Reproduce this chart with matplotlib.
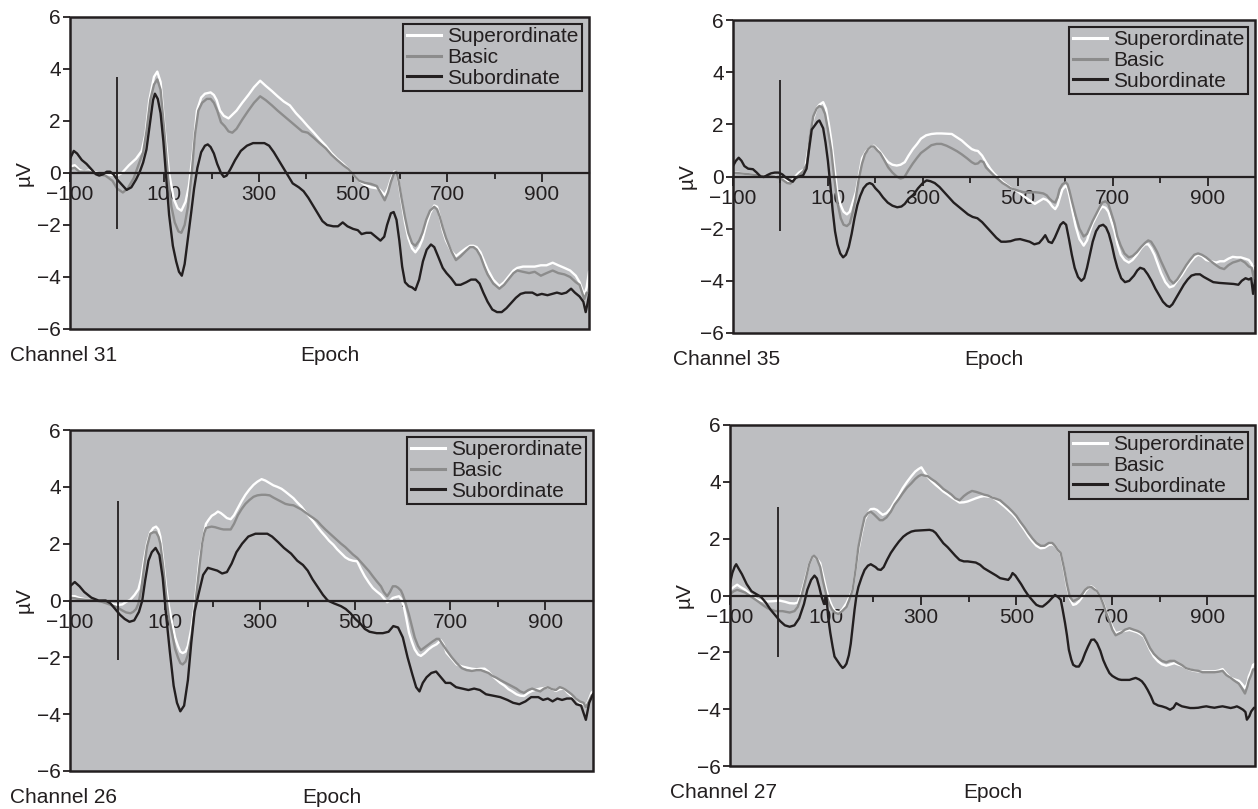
import matplotlib
matplotlib.use("Agg")
import matplotlib.pyplot as plt
from matplotlib.patches import Rectangle
import numpy as np

plt.rcParams['font.family'] = ['Liberation Sans', 'DejaVu Sans']

# ---------------- data (time in ms, amplitude in microvolts) ----------------
channels = [31, 35, 26, 27]
series_labels = ["Superordinate", "Basic", "Subordinate"]
x_major = [-100, 100, 300, 500, 700, 900]
x_minor = [0, 200, 400, 600, 800]
y_ticks = [-6, -4, -2, 0, 2, 4, 6]
onset_top = [3.7, 3.7, 3.5, 3.1]
onset_bottom = [-2.15, -2.1, -2.1, -2.15]

ch31_sup = [(-100,0.25),(-90,0.3),(-80,0.12),(-70,0.05),(-60,0.1),(-50,0.05),(-40,0.0),(-20,-0.05),(0,-0.1),(10,0.0),(25,0.3),(40,0.55),(52,0.85),(60,1.5),(68,2.8),(78,3.7),(85,3.9),(92,3.5),(100,1.8),(110,0.0),(120,-1.0),(128,-1.35),(136,-1.45),(145,-1.1),(152,-0.5),(160,0.7),(169,2.4),(178,2.9),(186,3.05),(198,3.1),(205,3.0),(211,2.8),(218,2.4),(226,2.2),(236,2.1),(253,2.4),(265,2.7),(278,3.0),(290,3.3),(303,3.55),(315,3.35),(328,3.15),(340,2.95),(353,2.75),(366,2.6),(379,2.3),(392,2.05),(404,1.8),(417,1.55),(429,1.3),(442,1.05),(454,0.77),(466,0.55),(479,0.35),(490,0.15),(498,0.0),(505,-0.15),(513,-0.3),(525,-0.45),(538,-0.55),(554,-0.6),(562,-0.75),(567,-0.85),(574,-0.6),(580,-0.25),(587,0.05),(592,0.05),(597,-0.4),(603,-1.1),(610,-1.9),(617,-2.5),(625,-2.9),(632,-3.05),(640,-2.85),(647,-2.55),(655,-2.0),(663,-1.55),(672,-1.25),(678,-1.3),(684,-1.7),(690,-2.2),(697,-2.6),(708,-3.0),(718,-3.2),(728,-3.05),(739,-2.9),(748,-2.8),(755,-2.8),(762,-2.85),(770,-3.05),(778,-3.4),(785,-3.7),(797,-4.1),(810,-4.35),(820,-4.2),(831,-3.95),(840,-3.75),(848,-3.65),(860,-3.6),(873,-3.6),(885,-3.6),(898,-3.55),(910,-3.55),(923,-3.45),(935,-3.55),(948,-3.65),(960,-3.75),(972,-3.95),(980,-4.2),(990,-4.7),(995,-4.4),(1000,-3.8)]
ch31_bas = [(-100,0.15),(-90,0.2),(-80,0.05),(-70,0.05),(-60,0.05),(-40,-0.05),(-25,-0.1),(-10,-0.3),(0,-0.6),(12,-0.75),(22,-0.6),(35,-0.2),(45,0.3),(55,0.8),(62,1.6),(70,2.8),(78,3.4),(85,3.6),(92,3.2),(100,1.6),(108,-0.2),(115,-1.3),(122,-1.9),(130,-2.25),(136,-2.3),(143,-2.0),(150,-1.3),(158,0.0),(165,1.5),(172,2.4),(180,2.7),(190,2.85),(198,2.85),(205,2.7),(212,2.4),(220,1.95),(228,1.8),(236,1.6),(244,1.55),(253,1.7),(265,2.05),(278,2.4),(290,2.7),(303,2.95),(315,2.8),(328,2.6),(340,2.4),(353,2.2),(366,2.0),(379,1.8),(392,1.6),(404,1.55),(417,1.35),(429,1.15),(442,0.95),(454,0.7),(466,0.5),(479,0.3),(490,0.15),(498,0.0),(505,-0.15),(513,-0.3),(525,-0.38),(538,-0.42),(550,-0.5),(558,-0.75),(567,-1.05),(574,-0.75),(580,-0.35),(587,0.0),(592,0.05),(597,-0.35),(603,-1.0),(610,-1.7),(617,-2.3),(625,-2.7),(632,-2.8),(640,-2.6),(647,-2.3),(655,-1.8),(663,-1.45),(672,-1.3),(678,-1.4),(684,-1.7),(690,-2.1),(697,-2.5),(708,-3.0),(718,-3.35),(728,-3.2),(739,-3.0),(748,-2.85),(755,-2.85),(762,-2.95),(770,-3.2),(778,-3.6),(785,-3.9),(797,-4.25),(810,-4.45),(820,-4.3),(831,-4.05),(840,-3.85),(848,-3.75),(860,-3.8),(873,-3.85),(885,-3.8),(898,-3.95),(910,-3.85),(923,-3.75),(935,-3.85),(948,-3.9),(960,-4.0),(972,-4.2),(980,-4.3),(990,-4.85),(995,-4.6),(1000,-4.65)]
ch31_sub = [(-100,0.55),(-92,0.85),(-85,0.75),(-75,0.5),(-65,0.35),(-55,0.15),(-45,-0.05),(-38,-0.1),(-30,-0.05),(-22,0.05),(-15,0.05),(-8,-0.05),(0,-0.25),(10,-0.45),(20,-0.65),(30,-0.55),(40,-0.25),(48,0.05),(55,0.4),(62,0.9),(70,2.0),(76,2.8),(80,3.05),(86,2.85),(92,2.3),(98,1.2),(104,-0.2),(110,-1.6),(118,-2.8),(125,-3.4),(131,-3.8),(137,-3.95),(143,-3.5),(150,-2.5),(157,-1.5),(163,-0.6),(170,0.2),(178,0.8),(186,1.05),(192,1.1),(198,1.0),(205,0.75),(212,0.35),(220,0.0),(226,-0.15),(232,-0.1),(240,0.15),(250,0.5),(262,0.85),(275,1.05),(288,1.15),(300,1.15),(312,1.15),(322,1.05),(332,0.8),(342,0.5),(352,0.2),(362,-0.1),(372,-0.4),(385,-0.55),(395,-0.7),(405,-0.95),(415,-1.25),(425,-1.55),(435,-1.85),(445,-2.0),(458,-2.05),(468,-2.05),(478,-1.9),(488,-2.05),(500,-2.15),(510,-2.2),(518,-2.35),(528,-2.3),(538,-2.3),(548,-2.45),(558,-2.6),(566,-2.45),(572,-2.0),(580,-1.55),(586,-1.5),(592,-1.8),(598,-2.6),(604,-3.6),(610,-4.2),(618,-4.35),(625,-4.4),(632,-4.5),(640,-4.1),(648,-3.4),(656,-2.95),(665,-2.75),(672,-2.85),(680,-3.2),(690,-3.65),(698,-3.85),(708,-4.05),(718,-4.3),(728,-4.3),(740,-4.2),(750,-4.1),(760,-4.1),(768,-4.25),(776,-4.6),(785,-4.95),(795,-5.25),(805,-5.35),(815,-5.35),(825,-5.2),(835,-5.0),(845,-4.8),(855,-4.65),(865,-4.6),(880,-4.6),(890,-4.7),(900,-4.65),(912,-4.7),(922,-4.65),(932,-4.6),(942,-4.65),(952,-4.6),(962,-4.45),(970,-4.6),(980,-4.75),(988,-4.95),(993,-5.35),(997,-5.0),(1000,-4.7)]

ch35_sup = [(-100,0.17),(-73,0.1),(-39,0.04),(-13,0.02),(4,-0.1),(21,-0.2),(39,0.15),(52,0.3),(60,1.2),(69,2.2),(76,2.6),(82,2.75),(90,2.85),(96,2.6),(102,2.0),(107,1.4),(114,0.3),(120,-0.6),(127,-1.1),(133,-1.35),(140,-1.45),(146,-1.35),(152,-1.0),(159,-0.6),(165,0.0),(172,0.7),(180,0.95),(190,1.12),(197,1.18),(205,1.05),(212,0.9),(220,0.7),(227,0.55),(236,0.45),(245,0.42),(253,0.45),(262,0.55),(270,0.8),(279,1.05),(288,1.25),(296,1.45),(307,1.58),(318,1.63),(329,1.65),(339,1.65),(350,1.64),(361,1.63),(372,1.5),(382,1.38),(393,1.2),(403,1.05),(410,1.0),(416,0.98),(425,0.8),(433,0.55),(442,0.3),(451,0.1),(460,-0.05),(468,-0.2),(477,-0.32),(485,-0.43),(494,-0.52),(502,-0.6),(512,-0.75),(524,-0.9),(536,-1.05),(545,-0.95),(554,-0.85),(561,-0.9),(567,-1.0),(573,-1.15),(579,-1.25),(584,-1.1),(588,-0.85),(594,-0.5),(601,-0.35),(605,-0.45),(609,-0.75),(615,-1.3),(622,-1.9),(630,-2.4),(639,-2.65),(646,-2.45),(652,-2.1),(658,-1.8),(665,-1.55),(672,-1.3),(678,-1.15),(685,-1.2),(691,-1.35),(697,-1.7),(704,-2.1),(710,-2.6),(717,-3.0),(725,-3.2),(734,-3.3),(742,-3.2),(751,-3.0),(760,-2.75),(768,-2.6),(775,-2.6),(781,-2.75),(788,-3.0),(794,-3.3),(802,-3.7),(811,-4.05),(820,-4.25),(828,-4.2),(836,-4.0),(845,-3.8),(855,-3.5),(863,-3.3),(872,-3.1),(880,-3.0),(888,-3.05),(897,-3.2),(907,-3.25),(918,-3.3),(926,-3.25),(935,-3.25),(944,-3.15),(953,-3.08),(962,-3.1),(970,-3.1),(979,-3.15),(987,-3.2),(993,-3.35),(998,-3.7),(1000,-3.45)]
ch35_bas = [(-100,0.15),(-73,0.1),(-39,0.03),(-13,0.0),(4,-0.12),(14,-0.25),(21,-0.27),(30,-0.1),(39,0.05),(48,0.2),(56,0.5),(62,1.5),(69,2.3),(76,2.6),(82,2.7),(88,2.65),(94,2.4),(100,1.8),(107,1.0),(113,0.0),(120,-1.0),(127,-1.6),(133,-1.85),(140,-1.9),(146,-1.8),(152,-1.4),(159,-0.8),(165,-0.1),(172,0.5),(178,0.85),(185,1.05),(191,1.15),(197,1.15),(204,1.0),(210,0.9),(218,0.65),(227,0.35),(236,0.15),(245,0.0),(253,-0.08),(258,-0.05),(262,0.0),(270,0.25),(279,0.5),(288,0.72),(296,0.9),(307,1.05),(318,1.2),(329,1.25),(339,1.25),(350,1.18),(361,1.08),(372,0.97),(382,0.85),(393,0.7),(403,0.55),(410,0.48),(416,0.5),(422,0.6),(428,0.55),(433,0.35),(442,0.18),(451,0.02),(460,-0.12),(468,-0.25),(477,-0.35),(485,-0.45),(494,-0.5),(502,-0.55),(512,-0.6),(524,-0.62),(536,-0.6),(545,-0.62),(554,-0.65),(561,-0.72),(567,-0.85),(573,-0.95),(579,-1.0),(584,-0.8),(588,-0.5),(594,-0.3),(601,-0.22),(605,-0.3),(609,-0.55),(615,-1.0),(622,-1.5),(630,-2.0),(639,-2.3),(646,-2.2),(652,-1.95),(658,-1.7),(665,-1.45),(672,-1.2),(678,-1.0),(685,-0.95),(691,-1.05),(697,-1.4),(704,-1.8),(710,-2.3),(717,-2.65),(725,-2.95),(734,-3.1),(742,-3.05),(751,-2.9),(760,-2.7),(768,-2.55),(775,-2.45),(781,-2.5),(788,-2.7),(794,-2.9),(802,-3.25),(811,-3.6),(820,-3.95),(828,-4.1),(836,-3.95),(845,-3.7),(855,-3.4),(863,-3.2),(872,-3.0),(880,-2.95),(888,-3.0),(897,-3.1),(907,-3.25),(918,-3.4),(926,-3.5),(935,-3.55),(944,-3.4),(953,-3.3),(962,-3.25),(970,-3.2),(979,-3.3),(987,-3.45),(993,-3.5),(998,-3.95),(1000,-3.5)]
ch35_sub = [(-100,0.4),(-94,0.6),(-88,0.72),(-82,0.6),(-76,0.4),(-68,0.3),(-58,0.28),(-50,0.15),(-42,0.0),(-35,-0.02),(-28,0.05),(-20,0.12),(-12,0.15),(-4,0.15),(4,0.08),(12,-0.05),(20,-0.15),(26,-0.2),(32,-0.05),(40,0.0),(48,0.05),(55,0.3),(60,1.0),(66,1.8),(72,1.95),(78,2.1),(82,2.15),(86,2.0),(90,1.85),(95,1.3),(100,0.6),(105,-0.3),(110,-1.3),(115,-2.1),(120,-2.6),(126,-2.95),(132,-3.1),(138,-3.0),(144,-2.7),(150,-2.2),(156,-1.6),(162,-1.1),(168,-0.75),(175,-0.45),(182,-0.3),(188,-0.25),(194,-0.3),(200,-0.45),(208,-0.6),(216,-0.8),(226,-1.0),(236,-1.12),(246,-1.18),(255,-1.15),(262,-1.05),(270,-0.85),(280,-0.7),(290,-0.45),(300,-0.25),(308,-0.15),(316,-0.18),(325,-0.25),(335,-0.4),(345,-0.6),(355,-0.8),(365,-1.0),(375,-1.15),(385,-1.3),(395,-1.45),(405,-1.55),(415,-1.6),(425,-1.75),(435,-1.95),(445,-2.15),(455,-2.35),(465,-2.5),(475,-2.5),(485,-2.48),(495,-2.42),(505,-2.4),(515,-2.45),(525,-2.5),(535,-2.6),(545,-2.55),(552,-2.4),(558,-2.25),(565,-2.5),(572,-2.55),(578,-2.35),(584,-2.1),(590,-1.85),(596,-1.75),(602,-1.85),(608,-2.4),(614,-3.0),(620,-3.5),(627,-3.85),(634,-4.0),(640,-3.9),(646,-3.5),(652,-3.0),(658,-2.5),(665,-2.1),(672,-1.9),(680,-1.85),(686,-1.95),(692,-2.2),(698,-2.6),(704,-3.1),(710,-3.5),(718,-3.9),(726,-4.05),(735,-4.0),(745,-3.8),(752,-3.6),(758,-3.5),(766,-3.55),(774,-3.75),(782,-4.0),(790,-4.3),(798,-4.55),(806,-4.8),(814,-4.95),(820,-5.0),(826,-4.9),(834,-4.65),(842,-4.4),(850,-4.15),(858,-3.95),(866,-3.8),(875,-3.75),(884,-3.75),(892,-3.85),(902,-3.95),(912,-4.05),(925,-4.08),(940,-4.1),(955,-4.12),(965,-4.15),(972,-4.0),(980,-3.9),(987,-3.95),(992,-3.9),(996,-4.5),(1000,-4.0)]

ch26_sup = [(-100,0.15),(-90,0.15),(-82,0.1),(-70,0.05),(-57,0.03),(-45,0.0),(-32,-0.02),(-20,-0.08),(-7,-0.14),(3,-0.15),(10,-0.14),(18,-0.05),(27,0.03),(36,0.2),(44,0.4),(50,0.8),(56,1.45),(62,2.0),(69,2.4),(75,2.55),(81,2.6),(86,2.5),(90,2.25),(96,1.4),(102,0.5),(108,-0.2),(115,-0.8),(121,-1.3),(127,-1.6),(132,-1.8),(137,-1.85),(143,-1.8),(148,-1.6),(155,-1.0),(161,-0.3),(167,0.6),(173,1.55),(180,2.2),(186,2.7),(192,2.85),(198,2.98),(205,3.05),(211,3.13),(217,3.08),(223,3.0),(230,2.9),(238,2.86),(245,3.0),(253,3.25),(261,3.5),(269,3.72),(277,3.9),(286,4.07),(294,4.18),(303,4.27),(311,4.22),(320,4.13),(328,4.05),(336,4.0),(345,3.93),(353,3.83),(361,3.72),(370,3.6),(378,3.45),(387,3.3),(395,3.12),(403,2.96),(412,2.78),(420,2.6),(428,2.43),(437,2.26),(445,2.1),(454,1.96),(462,1.8),(470,1.67),(479,1.52),(487,1.44),(495,1.4),(504,1.38),(512,1.1),(520,0.85),(529,0.62),(537,0.44),(545,0.32),(554,0.2),(560,0.08),(567,-0.06),(573,0.0),(579,0.09),(585,0.12),(592,0.15),(597,0.05),(602,-0.2),(607,-0.6),(613,-1.13),(619,-1.45),(625,-1.72),(632,-1.9),(638,-1.95),(646,-1.85),(654,-1.72),(662,-1.62),(671,-1.54),(680,-1.4),(686,-1.55),(692,-1.84),(703,-2.05),(713,-2.25),(724,-2.32),(734,-2.36),(745,-2.4),(755,-2.42),(764,-2.4),(772,-2.4),(780,-2.5),(788,-2.65),(797,-2.78),(805,-2.9),(814,-3.0),(822,-3.12),(830,-3.2),(839,-3.3),(847,-3.35),(855,-3.36),(864,-3.25),(872,-3.18),(880,-3.14),(889,-3.1),(897,-3.08),(905,-3.06),(914,-3.12),(922,-3.18),(930,-3.12),(939,-3.1),(947,-3.25),(955,-3.36),(964,-3.45),(972,-3.6),(980,-3.65),(985,-3.7),(990,-3.55),(997,-3.24),(1000,-3.2)]
ch26_bas = [(-100,0.1),(-90,0.08),(-82,0.05),(-70,0.03),(-57,0.02),(-45,0.0),(-32,-0.05),(-20,-0.12),(-7,-0.2),(3,-0.28),(10,-0.35),(18,-0.42),(27,-0.45),(33,-0.4),(39,-0.3),(44,-0.1),(50,0.4),(56,1.2),(62,1.9),(69,2.35),(75,2.4),(81,2.4),(86,2.25),(90,2.0),(96,1.2),(102,0.2),(108,-0.6),(115,-1.2),(121,-1.7),(127,-2.0),(132,-2.2),(137,-2.25),(143,-2.15),(148,-1.9),(155,-1.3),(161,-0.5),(167,0.4),(173,1.3),(178,2.0),(182,2.35),(186,2.55),(192,2.58),(198,2.6),(205,2.58),(211,2.55),(217,2.52),(223,2.5),(230,2.5),(238,2.5),(245,2.7),(253,3.0),(261,3.22),(269,3.4),(277,3.53),(286,3.65),(294,3.7),(303,3.72),(311,3.72),(320,3.7),(328,3.62),(336,3.55),(345,3.47),(353,3.4),(361,3.37),(370,3.35),(378,3.28),(387,3.2),(395,3.1),(403,3.0),(412,2.9),(420,2.8),(428,2.65),(437,2.5),(445,2.38),(454,2.25),(462,2.12),(470,2.0),(479,1.88),(487,1.75),(495,1.62),(504,1.5),(512,1.35),(520,1.2),(529,1.03),(537,0.85),(545,0.68),(554,0.5),(560,0.3),(567,0.15),(573,0.3),(579,0.5),(585,0.5),(590,0.45),(596,0.35),(600,0.2),(606,-0.1),(613,-0.5),(619,-0.9),(625,-1.3),(632,-1.6),(638,-1.75),(646,-1.65),(654,-1.55),(662,-1.45),(671,-1.35),(676,-1.35),(680,-1.45),(686,-1.6),(692,-1.75),(703,-2.0),(713,-2.2),(724,-2.38),(734,-2.45),(745,-2.48),(755,-2.45),(764,-2.45),(772,-2.5),(780,-2.55),(788,-2.65),(797,-2.72),(805,-2.8),(814,-2.88),(822,-2.95),(830,-3.02),(839,-3.1),(847,-3.2),(855,-3.25),(864,-3.15),(872,-3.1),(880,-3.15),(889,-3.2),(897,-3.1),(905,-3.05),(914,-3.12),(922,-3.15),(930,-3.05),(939,-3.1),(947,-3.2),(955,-3.3),(964,-3.45),(972,-3.55),(980,-3.6),(985,-3.75),(990,-3.6),(997,-3.35),(1000,-3.3)]
ch26_sub = [(-100,0.5),(-90,0.65),(-80,0.5),(-70,0.3),(-55,0.1),(-40,0.0),(-25,0.0),(-15,-0.1),(-5,-0.3),(5,-0.5),(15,-0.65),(25,-0.75),(35,-0.7),(45,-0.4),(52,0.0),(58,0.7),(65,1.4),(72,1.7),(80,1.85),(88,1.6),(95,0.8),(102,-0.5),(110,-1.8),(118,-3.0),(125,-3.6),(132,-3.9),(140,-3.7),(148,-2.8),(155,-1.5),(162,-0.4),(170,0.2),(180,0.9),(190,1.15),(200,1.1),(210,1.05),(220,0.95),(230,1.0),(240,1.3),(250,1.7),(262,2.0),(275,2.25),(290,2.35),(303,2.35),(315,2.35),(325,2.25),(338,2.05),(350,1.85),(365,1.65),(378,1.4),(390,1.25),(400,1.05),(410,0.75),(420,0.5),(432,0.2),(442,0.0),(455,-0.1),(470,-0.2),(480,-0.3),(490,-0.45),(500,-0.65),(510,-0.8),(520,-1.0),(530,-1.1),(545,-1.15),(558,-1.15),(570,-1.1),(580,-0.9),(590,-0.95),(600,-1.3),(610,-2.0),(620,-2.6),(628,-3.05),(635,-3.2),(642,-2.9),(650,-2.7),(660,-2.55),(670,-2.5),(680,-2.7),(690,-2.9),(700,-2.9),(712,-3.05),(725,-3.1),(738,-3.15),(750,-3.1),(762,-3.15),(775,-3.3),(790,-3.35),(805,-3.4),(820,-3.5),(832,-3.6),(845,-3.65),(858,-3.55),(870,-3.4),(885,-3.4),(895,-3.5),(905,-3.45),(915,-3.55),(925,-3.45),(935,-3.5),(945,-3.45),(955,-3.45),(965,-3.65),(975,-3.7),(985,-4.2),(992,-3.6),(1000,-3.3)]

ch27_sup = [(-100,0.2),(-92,0.3),(-85,0.38),(-78,0.3),(-68,0.2),(-55,0.0),(-42,-0.15),(-30,-0.2),(-21,-0.21),(-10,-0.2),(4,-0.18),(15,-0.22),(25,-0.27),(35,-0.28),(42,-0.25),(50,0.1),(59,0.67),(66,1.1),(72,1.35),(76,1.37),(82,1.3),(89,1.14),(95,0.7),(102,0.2),(108,-0.15),(114,-0.39),(120,-0.55),(127,-0.62),(135,-0.5),(144,-0.27),(150,-0.05),(157,0.2),(163,0.9),(169,1.6),(176,2.2),(182,2.66),(189,2.9),(195,3.04),(202,3.05),(208,3.01),(214,2.92),(220,2.84),(228,2.9),(237,3.07),(245,3.3),(254,3.54),(262,3.78),(271,4.0),(280,4.2),(288,4.36),(295,4.45),(301,4.51),(307,4.35),(314,4.18),(322,4.03),(331,3.89),(339,3.78),(347,3.66),(356,3.56),(364,3.46),(372,3.37),(381,3.27),(390,3.28),(398,3.31),(407,3.37),(415,3.42),(424,3.47),(432,3.5),(440,3.48),(449,3.46),(458,3.36),(466,3.25),(475,3.13),(483,3.01),(492,2.87),(500,2.72),(508,2.52),(517,2.31),(525,2.1),(534,1.9),(542,1.75),(551,1.66),(559,1.68),(568,1.78),(575,1.8),(581,1.75),(587,1.6),(593,1.49),(600,0.9),(606,0.32),(612,-0.1),(619,-0.33),(625,-0.3),(631,-0.21),(638,-0.05),(644,0.14),(650,0.25),(657,0.32),(663,0.25),(669,0.14),(676,-0.05),(682,-0.27),(688,-0.55),(695,-0.86),(701,-1.1),(708,-1.32),(714,-1.3),(720,-1.27),(728,-1.24),(737,-1.21),(745,-1.25),(754,-1.3),(760,-1.36),(767,-1.44),(773,-1.65),(780,-1.91),(788,-2.15),(797,-2.32),(805,-2.42),(814,-2.47),(822,-2.43),(831,-2.38),(839,-2.43),(847,-2.47),(855,-2.55),(864,-2.61),(872,-2.65),(881,-2.67),(890,-2.67),(898,-2.67),(907,-2.67),(915,-2.67),(924,-2.64),(932,-2.59),(940,-2.75),(949,-2.9),(957,-2.95),(966,-3.0),(972,-3.1),(979,-3.26),(984,-3.1),(987,-2.85),(992,-2.65),(996,-2.44),(1000,-2.4)]
ch27_bas = [(-100,0.05),(-92,0.15),(-85,0.2),(-76,0.15),(-68,0.1),(-55,-0.05),(-42,-0.2),(-30,-0.35),(-21,-0.45),(-10,-0.52),(-5,-0.55),(10,-0.55),(25,-0.6),(35,-0.55),(42,-0.4),(50,0.0),(59,0.6),(66,1.1),(72,1.35),(76,1.4),(82,1.3),(89,1.0),(95,0.5),(102,0.0),(108,-0.3),(114,-0.5),(120,-0.6),(127,-0.65),(135,-0.55),(144,-0.4),(150,-0.15),(157,0.2),(163,0.9),(169,1.7),(176,2.3),(182,2.75),(189,2.9),(195,2.95),(202,2.85),(208,2.75),(214,2.65),(220,2.65),(228,2.75),(237,2.95),(245,3.2),(254,3.4),(262,3.6),(271,3.8),(280,3.95),(288,4.1),(295,4.2),(301,4.25),(307,4.22),(314,4.2),(322,4.1),(331,4.0),(339,3.88),(347,3.75),(356,3.65),(364,3.55),(372,3.42),(381,3.35),(390,3.5),(398,3.6),(407,3.68),(415,3.65),(424,3.6),(432,3.55),(440,3.52),(449,3.45),(458,3.4),(466,3.35),(475,3.22),(483,3.1),(492,2.95),(500,2.8),(508,2.6),(517,2.4),(525,2.2),(534,2.0),(542,1.85),(551,1.75),(559,1.75),(568,1.85),(575,1.85),(581,1.75),(587,1.6),(593,1.5),(600,0.95),(606,0.4),(612,-0.05),(619,-0.2),(625,-0.15),(631,-0.1),(638,0.05),(644,0.2),(650,0.28),(657,0.3),(663,0.22),(669,0.15),(676,-0.05),(682,-0.3),(688,-0.6),(695,-0.9),(701,-1.2),(708,-1.4),(714,-1.35),(720,-1.3),(728,-1.2),(737,-1.15),(745,-1.2),(754,-1.25),(760,-1.3),(767,-1.4),(773,-1.6),(780,-1.85),(788,-2.05),(797,-2.2),(805,-2.3),(814,-2.35),(822,-2.3),(831,-2.3),(839,-2.38),(847,-2.45),(855,-2.55),(864,-2.6),(872,-2.63),(881,-2.65),(890,-2.7),(898,-2.7),(907,-2.7),(915,-2.7),(924,-2.68),(932,-2.65),(940,-2.8),(949,-2.9),(957,-3.0),(966,-3.1),(972,-3.25),(979,-3.45),(984,-3.2),(987,-3.0),(992,-2.8),(996,-2.6),(1000,-2.6)]
ch27_sub = [(-100,0.43),(-95,0.8),(-90,1.02),(-87,1.1),(-82,0.95),(-75,0.75),(-65,0.4),(-55,0.15),(-45,0.05),(-35,-0.05),(-25,-0.25),(-15,-0.5),(-5,-0.7),(5,-0.9),(15,-1.05),(25,-1.1),(35,-1.05),(45,-0.8),(55,-0.3),(62,0.2),(70,0.55),(77,0.7),(82,0.6),(87,0.3),(92,-0.05),(97,-0.3),(102,-0.05),(106,-0.8),(110,-1.3),(115,-1.8),(119,-2.15),(123,-2.25),(127,-2.35),(131,-2.45),(136,-2.55),(140,-2.5),(144,-2.4),(149,-2.1),(153,-1.7),(157,-1.1),(161,-0.5),(165,0.0),(169,0.3),(176,0.65),(182,0.9),(189,1.05),(195,1.1),(200,1.05),(205,1.0),(210,0.92),(216,0.9),(222,1.0),(229,1.25),(237,1.5),(246,1.72),(254,1.9),(263,2.07),(271,2.17),(280,2.25),(288,2.28),(297,2.29),(306,2.3),(318,2.31),(325,2.28),(331,2.2),(339,2.02),(347,1.84),(356,1.7),(364,1.55),(372,1.4),(381,1.25),(390,1.2),(398,1.2),(407,1.18),(415,1.16),(424,1.08),(432,0.96),(440,0.88),(449,0.79),(458,0.7),(466,0.61),(475,0.58),(483,0.55),(488,0.65),(492,0.79),(498,0.7),(504,0.55),(510,0.4),(517,0.2),(523,0.05),(530,-0.1),(536,-0.22),(542,-0.33),(549,-0.38),(555,-0.39),(562,-0.3),(568,-0.21),(574,-0.1),(581,0.02),(587,-0.05),(593,-0.15),(597,-0.5),(602,-0.97),(606,-1.4),(610,-1.91),(615,-2.25),(619,-2.44),(625,-2.5),(631,-2.5),(638,-2.3),(644,-2.03),(650,-1.8),(657,-1.56),(663,-1.55),(669,-1.68),(676,-1.95),(682,-2.27),(688,-2.5),(695,-2.73),(701,-2.83),(708,-2.9),(714,-2.95),(720,-2.97),(728,-2.97),(737,-2.97),(744,-2.93),(750,-2.9),(757,-2.95),(763,-3.02),(769,-3.15),(775,-3.32),(782,-3.55),(788,-3.79),(797,-3.87),(805,-3.9),(814,-3.95),(822,-4.02),(829,-3.95),(835,-3.79),(841,-3.85),(847,-3.9),(856,-3.93),(864,-3.96),(872,-3.96),(881,-3.95),(890,-3.92),(898,-3.9),(907,-3.93),(915,-3.95),(924,-3.92),(932,-3.9),(940,-3.93),(949,-3.96),(957,-3.93),(962,-3.9),(968,-3.95),(975,-4.02),(980,-4.1),(983,-4.37),(988,-4.25),(992,-4.08),(998,-3.95),(1000,-3.95)]

panel_series = [
    (ch31_sup, ch31_bas, ch31_sub),
    (ch35_sup, ch35_bas, ch35_sub),
    (ch26_sup, ch26_bas, ch26_sub),
    (ch27_sup, ch27_bas, ch27_sub),
]

# ---------------- style ----------------
BG = '#bdbec1'
DARK = '#231f20'
LINE_COLORS = ['#ffffff', '#8c8c8c', '#231f20']
FS = 15
W, H = 1258, 809
# axes rectangles in pixels: left, top, right, bottom
rects_px = [(70, 17, 589, 329), (733, 20, 1255, 333),
            (70, 430, 593, 771), (730, 425, 1255, 766)]

fig = plt.figure(figsize=(W / 100, H / 100), dpi=100)

for i, (ch, series) in enumerate(zip(channels, panel_series)):
    l, t, r, b = rects_px[i]
    ax = fig.add_axes([l / W, (H - b) / H, (r - l) / W, (b - t) / H])
    ax.set_facecolor(BG)
    for data, lab, col in zip(series, series_labels, LINE_COLORS):
        arr = np.array(data)
        ax.plot(arr[:, 0], arr[:, 1], color=col, lw=1.7, label=lab,
                solid_joinstyle='round')
    ax.vlines(0, onset_bottom[i], onset_top[i], color=DARK, lw=1.3, zorder=3)

    ax.set_xlim(-100, 1000)
    ax.set_ylim(-6, 6)

    # zero line acts as the x axis; separate frame around the plot area
    for s in ['left', 'right', 'top']:
        ax.spines[s].set_visible(False)
    ax.spines['bottom'].set_position(('data', 0))
    ax.spines['bottom'].set_color(DARK)
    ax.spines['bottom'].set_linewidth(1.6)
    ax.add_patch(Rectangle((0, 0), 1, 1, transform=ax.transAxes, fill=False,
                           ec=DARK, lw=1.8, clip_on=False, zorder=4))

    ax.set_xticks(x_major)
    ax.set_xticklabels([str(v).replace('-', '\u2212') for v in x_major])
    ax.set_xticks(x_minor, minor=True)
    ax.set_yticks(y_ticks)
    ax.set_yticklabels([str(v).replace('-', '\u2212') for v in y_ticks])
    ax.tick_params(axis='x', which='major', direction='out', length=6.5,
                   width=1.3, pad=2.5, labelsize=FS, colors=DARK)
    ax.tick_params(axis='x', which='minor', direction='out', length=4.5,
                   width=1.3, colors=DARK)
    ax.tick_params(axis='y', direction='out', length=5, width=1.3, pad=1.5,
                   labelsize=FS, colors=DARK)

    ax.annotate('\u00b5V', xy=(0, 0.5), xycoords='axes fraction',
                xytext=(-33, 0), textcoords='offset points', rotation=90,
                ha='center', va='center', fontsize=FS, color=DARK)
    ax.annotate(f'Channel {ch}', xy=(0, 0), xycoords='axes fraction',
                xytext=(-43, -19), textcoords='offset points',
                ha='left', va='center', fontsize=FS, color=DARK)
    ax.annotate('Epoch', xy=(0.5, 0), xycoords='axes fraction',
                xytext=(0, -19), textcoords='offset points',
                ha='center', va='center', fontsize=FS, color=DARK)

    leg = ax.legend(loc='upper right', fontsize=FS, frameon=True,
                    fancybox=False, edgecolor=DARK, facecolor=BG,
                    framealpha=1, handlelength=1.65, handletextpad=0.3,
                    labelspacing=0.08, borderpad=0.15, borderaxespad=0.35)
    leg.get_frame().set_linewidth(1.5)
    for txt in leg.get_texts():
        txt.set_color(DARK)
    for ln in leg.get_lines():
        ln.set_linewidth(2.2)

fig.savefig('out.png', dpi=100)
